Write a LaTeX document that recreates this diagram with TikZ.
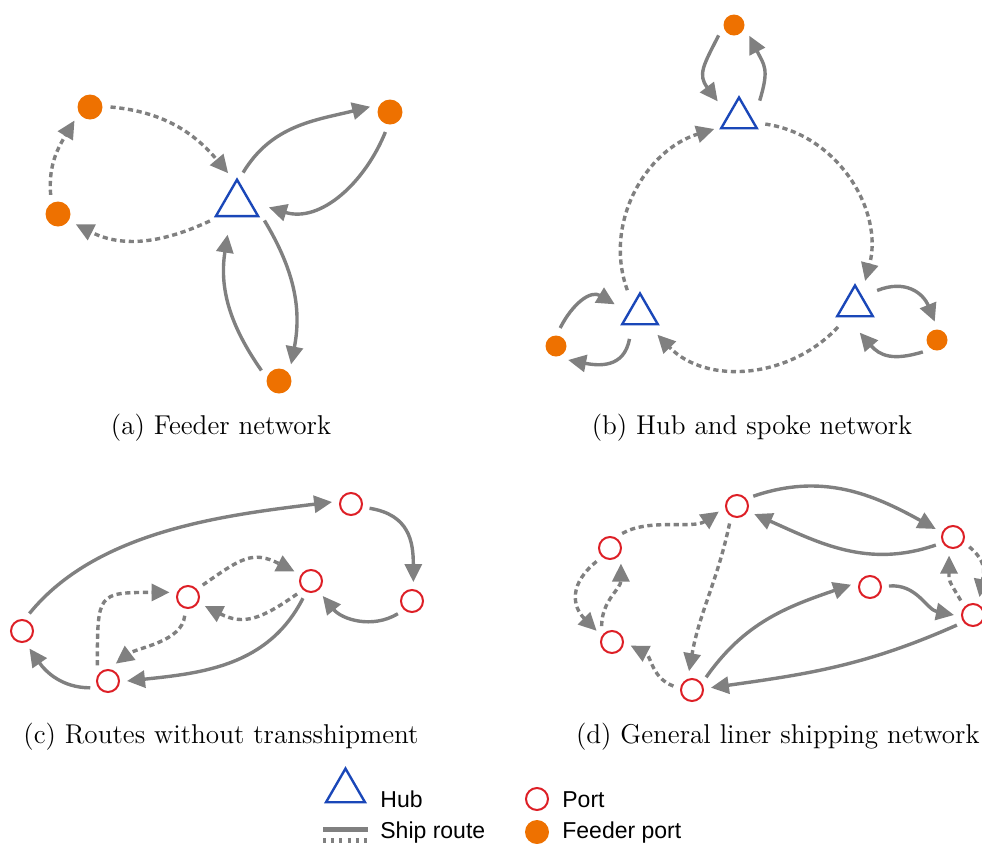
\documentclass[tikz,border=0pt]{standalone}
\usepackage{fontspec}
\newfontfamily\legendfont{Liberation Sans}
\usetikzlibrary{arrows.meta}

\definecolor{hubblue}{RGB}{26,71,184}
\definecolor{portred}{RGB}{221,31,38}
\definecolor{feedorange}{RGB}{238,113,0}
\definecolor{routegray}{RGB}{128,128,128}

\tikzset{
	hub/.style={circle, inner sep=0pt, outer sep=0pt, minimum size=#1,
		path picture={\draw[hubblue, line width=1.2pt]
			([yshift=0.38*#1]path picture bounding box.center) -- ++(-0.33*#1,-0.57*#1) -- ++(0.66*#1,0) -- cycle;}},
	feeder/.style={circle, fill=feedorange, inner sep=0pt, outer sep=4pt, minimum size=#1},
	port/.style={circle, draw=portred, line width=1pt, inner sep=0pt, outer sep=4pt, minimum size=11pt},
	route/.style={draw=routegray, line width=1.7pt, -{Triangle[length=9pt,width=8.5pt]}},
	sroute/.style={route, dash pattern=on 2.6pt off 1.8pt},
	caption/.style={font=\fontsize{13.6}{17}\selectfont, inner sep=0pt},
	legend/.style={font=\legendfont\fontsize{11.5}{14}\selectfont, inner sep=0pt, anchor=base west}
}

\begin{document}
\begin{tikzpicture}[x=0.5pt,y=0.5pt]
		
		\useasboundingbox (0,0) rectangle (982,-843);
		\clip (0,0) rectangle (982,-843);
		
		% (a)
		\node[hub=32pt] (aH) at (237,-204) {};
		\node[feeder=12.5pt] (a1) at (90,-107) {};
		\node[feeder=12.5pt] (a2) at (58,-214) {};
		\node[feeder=12.5pt] (a3) at (390,-112) {};
		\node[feeder=12.5pt] (a4) at (279,-381) {};
		
		\draw[sroute] (a1.0) to[out=-5,in=130] (aH.106);
		\draw[sroute] (aH.212) to[out=205,in=-27] (a2.-30);
		\draw[sroute] (a2.111) to[out=95,in=239] (a1.221);
		\draw[route] (aH.79) to[out=59,in=194] (a3.165);
		\draw[route] (a3.257) to[out=248,in=-17] (aH.-6);
		\draw[route] (aH.-31) to[out=-59,in=79] (a4.54);
		\draw[route] (a4.149) to[out=125,in=261] (aH.253);
		
		\node[caption] (capA) at (221,-428) {(a) Feeder network};
		
		% (b)
		\node[hub=27pt] (bH1) at (739,-118) {};
		\node[hub=27pt] (bH2) at (640,-314) {};
		\node[hub=27pt] (bH3) at (855,-306) {};
		\node[feeder=10.5pt] (b1) at (734,-25) {};
		\node[feeder=10.5pt] (b2) at (556,-346) {};
		\node[feeder=10.5pt] (b3) at (937,-340) {};
		
		\draw[route] (b1.214) to[out=243,in=127,looseness=1.3] (bH1.142);
		\draw[route] (bH1.40) to[out=73,in=-63,looseness=1.3] (b1.-35);
		\draw[sroute] (bH2.118) to[out=110,in=197] (bH1.204);
		\draw[sroute] (bH1.-13) to[out=-8,in=75] (bH3.68);
		\draw[sroute] (bH3.231) to[out=227,in=-46] (bH2.-50);
		\draw[route] (b2.77) to[out=63,in=149,looseness=1.2] (bH2.159);
		\draw[route] (bH2.247) to[out=-100,in=-11,looseness=1.2] (b2.-49);
		\draw[route] (bH3.35) to[out=22,in=112,looseness=1.2] (b3.97);
		\draw[route] (b3.220) to[out=197,in=-49,looseness=1.2] (bH3.-80);
		
		\node[caption] (capB) at (752,-428) {(b) Hub and spoke network};
		
		% (c)
		\node[port] (c1) at (22,-631) {};
		\node[port] (c2) at (108,-681) {};
		\node[port] (c3) at (188,-597) {};
		\node[port] (c4) at (311,-581) {};
		\node[port] (c5) at (351,-504) {};
		\node[port] (c6) at (412,-601) {};
		
		\draw[route] (c1.67) to[out=51,in=187,looseness=0.85] (c5.174);
		\draw[route] (c5.-13) to[out=-9,in=90,looseness=1.2] (c6.86);
		\draw[route] (c6.222) to[out=211,in=-51] (c4.-52);
		\draw[route] (c4.245) to[out=243,in=6] (c2.0);
		\draw[route] (c2.201) to[out=180,in=-55] (c1.-67);
		\draw[sroute] (c2.124) to[out=90,in=180,looseness=1.8] (c3.166);
		\draw[sroute] (c3.260) to[out=265,in=37,looseness=0.8] (c2.66);
		\draw[sroute] (c3.39) to[out=35,in=153,looseness=1.3] (c4.150);
		\draw[sroute] (c4.223) to[out=215,in=-27,looseness=1.2] (c3.-28);
		
		\node[caption] (capC) at (221,-737) {(c) Routes without transshipment};
		
		% (d)
		\node[port] (d1) at (737,-506) {};
		\node[port] (d2) at (953,-537) {};
		\node[port] (d3) at (610,-548) {};
		\node[port] (d4) at (870,-587) {};
		\node[port] (d5) at (973,-615) {};
		\node[port] (d6) at (612,-642) {};
		\node[port] (d7) at (692,-690) {};
		
		\draw[route] (d1.31) to[out=19,in=151] (d2.155);
		\draw[route] (d2.205) to[out=199,in=-24] (d1.-25);
		\draw[sroute] (d3.50) to[out=30,in=215,looseness=0.8] (d1.197);
		\draw[sroute] (d1.247) to[out=258,in=80] (d7.99);
		\draw[sroute] (d3.225) to[out=219,in=135,looseness=1.3] (d6.144);
		\draw[sroute] (d6.123) to[out=90,in=-90] (d3.-55);
		\draw[sroute] (d7.168) to[out=160,in=-27] (d6.-11);
		\draw[route] (d7.42) to[out=55,in=199] (d4.173);
		\draw[route] (d4.3) to[out=5,in=169] (d5.180);
		\draw[route] (d5.212) to[out=204,in=8] (d7.7);
		\draw[sroute] (d5.130) to[out=121,in=-90,looseness=1.4] (d2.258);
		\draw[sroute] (d2.-31) to[out=-40,in=80,looseness=1.2] (d5.70);
		
		\node[caption, anchor=east] (capD) at (980,-737) {(d) General liner shipping network};
		
		% legend
		\node[hub=29.5pt] (lHub) at (345.5,-791) {};
		\node[legend] (tHub) at (380,-807) {Hub};
		\coordinate (r1) at (323,-829);
		\coordinate (r2) at (368,-829);
		\coordinate (r3) at (323,-840);
		\coordinate (r4) at (368,-840);
		\draw[routegray, line width=2.5pt] (r1) -- (r2);
		\draw[routegray, line width=2.5pt, dash pattern=on 1.5pt off 2.6pt] (r3) -- (r4);
		\node[legend] (tRoute) at (380,-838) {Ship route};
		\node[port] (lPort) at (537,-799) {};
		\node[legend] (tPort) at (562,-807) {Port};
		\node[feeder=12pt] (lFeeder) at (537,-832) {};
		\node[legend] (tFeeder) at (562,-838) {Feeder port};
		
	\end{tikzpicture}
\end{document}
